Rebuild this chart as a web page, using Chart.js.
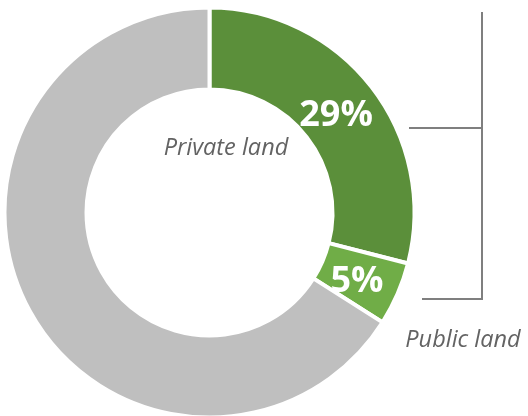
<!DOCTYPE html>
<html>
<head>
<meta charset="utf-8">
<script src="https://cdn.jsdelivr.net/npm/chart.js@4/dist/chart.umd.min.js"></script>
<style>
  html, body { margin: 0; padding: 0; background: #fff; }
  #wrap { width: 528px; height: 416px; }
</style>
</head>
<body>
<div id="wrap"><canvas id="myChart" width="528" height="416"></canvas></div>
<script>
const categories = ["Private land", "Public land", "Other"];
const shares = [29, 5, 66];
const sliceLabels = ["29%", "5%", ""];
const colors = ["#5b8f3a", "#70ad47", "#bfbfbf"];

// white % labels on the green slices
const sliceText = {
  id: "sliceText",
  afterDatasetsDraw(chart) {
    const c = chart.ctx;
    const arcs = chart.getDatasetMeta(0).data;
    c.save();
    c.fillStyle = "#ffffff";
    c.font = "bold 36px 'Open Sans'";
    c.textAlign = "center";
    c.textBaseline = "middle";
    arcs.forEach((arc, i) => {
      if (!sliceLabels[i]) return;
      const p = arc.tooltipPosition();
      c.fillText(sliceLabels[i], p.x - 3, p.y + 4);
    });
    c.restore();
  },
};

// category names and the bracket on the right
const notes = {
  id: "notes",
  afterDraw(chart) {
    const c = chart.ctx;
    c.save();
    c.fillStyle = "#636363";
    c.font = "italic 23.5px 'Open Sans'";
    c.textAlign = "center";
    c.textBaseline = "middle";
    c.fillText(categories[0], 226, 148);
    c.fillText(categories[1], 463, 340);

    c.strokeStyle = "#7f7f7f";
    c.lineWidth = 2;
    c.beginPath();
    c.moveTo(409, 128);
    c.lineTo(482, 128);
    c.moveTo(482, 12);
    c.lineTo(482, 299);
    c.moveTo(422, 299);
    c.lineTo(483, 299);
    c.stroke();
    c.restore();
  },
};

new Chart(document.getElementById("myChart"), {
  type: "doughnut",
  data: {
    labels: categories,
    datasets: [
      {
        data: shares,
        backgroundColor: colors,
        borderColor: "#ffffff",
        borderWidth: 4,
        hoverBorderWidth: 4,
      },
    ],
  },
  options: {
    responsive: false,
    animation: false,
    radius: 205,
    cutout: "60%",
    layout: { padding: { left: 0, right: 109, top: 9, bottom: 0 } },
    plugins: {
      legend: { display: false },
      tooltip: { enabled: false },
    },
  },
  plugins: [sliceText, notes],
});
</script>
</body>
</html>
